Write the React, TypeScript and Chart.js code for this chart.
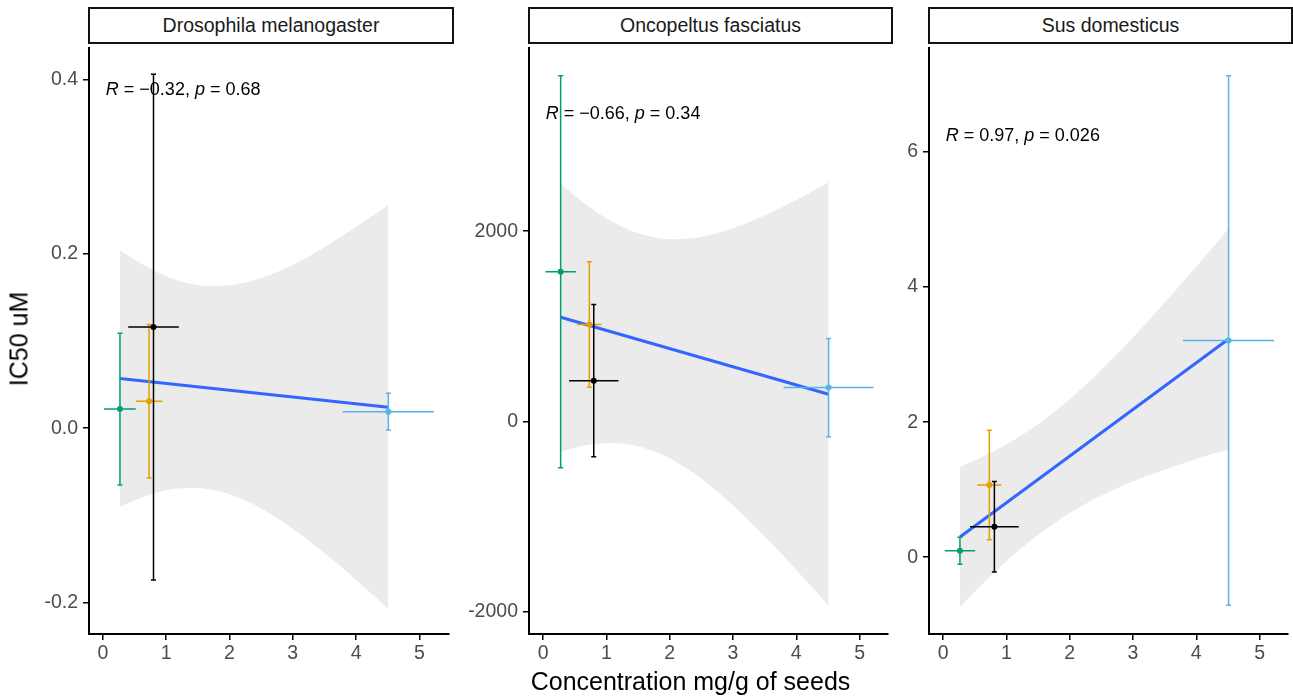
import React, { useEffect, useRef } from "react";
import { Chart, registerables } from "chart.js";

Chart.register(...registerables);

const FONT = '"Liberation Sans", Arial, Helvetica, sans-serif';

// ---------- data ----------
const panelTitles = ["Drosophila melanogaster", "Oncopeltus fasciatus", "Sus domesticus"];
const groupColors = ["#009E73", "#E69F00", "#000000", "#56B4E9"];
const xTickValues = [0, 1, 2, 3, 4, 5];

// Drosophila melanogaster
const droX = [0.27, 0.73, 0.8, 4.51];
const droXErr = [0.25, 0.21, 0.4, 0.72];
const droY = [0.022, 0.031, 0.116, 0.019];
const droYErr = [0.087, 0.088, 0.29, 0.021];
const droLineX = [0.27, 4.51];
const droLineY = [0.057, 0.024];
const droBandX = [0.27, 0.75, 1.25, 1.75, 2.25, 2.75, 3.25, 3.75, 4.25, 4.51];
const droBandUpper = [0.204, 0.183, 0.168, 0.163, 0.167, 0.179, 0.197, 0.219, 0.243, 0.256];
const droBandLower = [-0.09, -0.076, -0.069, -0.071, -0.083, -0.103, -0.129, -0.158, -0.19, -0.207];
const droYTicks = [-0.2, 0, 0.2, 0.4];
const droYTickLabels = ["-0.2", "0.0", "0.2", "0.4"];

// Oncopeltus fasciatus
const oncX = [0.277, 0.73, 0.8, 4.51];
const oncXErr = [0.24, 0.19, 0.39, 0.71];
const oncY = [1573, 1019, 428, 355];
const oncYErr = [2060, 660, 800, 517];
const oncLineX = [0.277, 4.51];
const oncLineY = [1094, 285];
const oncBandX = [0.277, 0.75, 1.25, 1.75, 2.25, 2.75, 3.25, 3.75, 4.25, 4.51];
const oncBandUpper = [2499, 2245, 2046, 1936, 1919, 1979, 2093, 2243, 2417, 2514];
const oncBandLower = [-317, -243, -234, -314, -487, -737, -1041, -1381, -1745, -1940];
const oncYTicks = [-2000, 0, 2000];
const oncYTickLabels = ["-2000", "0", "2000"];

// Sus domesticus
const susX = [0.266, 0.73, 0.81, 4.51];
const susXErr = [0.24, 0.19, 0.385, 0.72];
const susY = [0.094, 1.069, 0.451, 3.21];
const susYErr = [0.2, 0.81, 0.67, 3.92];
const susLineX = [0.266, 4.51];
const susLineY = [0.3, 3.23];
const susBandX = [0.266, 0.75, 1.25, 1.75, 2.25, 2.75, 3.25, 3.75, 4.25, 4.51];
const susBandUpper = [1.334, 1.545, 1.814, 2.148, 2.55, 3.01, 3.508, 4.033, 4.575, 4.862];
const susBandLower = [-0.736, -0.279, 0.144, 0.5, 0.788, 1.02, 1.212, 1.377, 1.527, 1.598];
const susYTicks = [0, 2, 4, 6];
const susYTickLabels = ["0", "2", "4", "6"];

// correlation labels
const corR = ["\u22120.32", "\u22120.66", "0.97"];
const corP = ["0.68", "0.34", "0.026"];

// ---------- layout (positions / ranges) ----------
const PLOT_TOP = 44;
const PLOT_H = 590;
const Y_AXIS_W = 80;
const X_AXIS_H = 60;

const panels = [
  {
    title: panelTitles[0], x: droX, xerr: droXErr, y: droY, yerr: droYErr,
    lineX: droLineX, lineY: droLineY, bandX: droBandX, bandU: droBandUpper, bandL: droBandLower,
    yTicks: droYTicks, yLabels: droYTickLabels, r: corR[0], p: corP[0],
    left: 89, width: 364, xMin: -0.219, yMin: -0.236, yMax: 0.436, corX: 0.047, corY: 0.388,
  },
  {
    title: panelTitles[1], x: oncX, xerr: oncXErr, y: oncY, yerr: oncYErr,
    lineX: oncLineX, lineY: oncLineY, bandX: oncBandX, bandU: oncBandUpper, bandL: oncBandLower,
    yTicks: oncYTicks, yLabels: oncYTickLabels, r: corR[1], p: corP[1],
    left: 529, width: 363, xMin: -0.223, yMin: -2235, yMax: 3925, corX: 0.042, corY: 3230,
  },
  {
    title: panelTitles[2], x: susX, xerr: susXErr, y: susY, yerr: susYErr,
    lineX: susLineX, lineY: susLineY, bandX: susBandX, bandU: susBandUpper, bandL: susBandLower,
    yTicks: susYTicks, yLabels: susYTickLabels, r: corR[2], p: corP[2],
    left: 929, width: 363, xMin: -0.223, yMin: -1.137, yMax: 7.54, corX: 0.042, corY: 6.23,
  },
];

function Panel({ cfg }: { cfg: any }) {
  const ref = useRef<HTMLCanvasElement | null>(null);
  useEffect(() => {
    if (!ref.current) return;
    const pts = cfg.x.map((v: number, i: number) => ({ x: v, y: cfg.y[i] }));
    const upper = cfg.bandX.map((v: number, i: number) => ({ x: v, y: cfg.bandU[i] }));
    const lower = cfg.bandX.map((v: number, i: number) => ({ x: v, y: cfg.bandL[i] }));
    const line = cfg.lineX.map((v: number, i: number) => ({ x: v, y: cfg.lineY[i] }));

    const errorBars = {
      id: "errorbars",
      beforeDatasetDraw(chart: any, args: any) {
        if (args.index !== 3) return;
        const { ctx } = chart;
        const xs = chart.scales.x;
        const ys = chart.scales.y;
        ctx.save();
        ctx.lineWidth = 1.5;
        ctx.lineCap = "butt";
        for (let i = 0; i < cfg.x.length; i++) {
          const px = xs.getPixelForValue(cfg.x[i]);
          const py = ys.getPixelForValue(cfg.y[i]);
          const top = ys.getPixelForValue(cfg.y[i] + cfg.yerr[i]);
          const bot = ys.getPixelForValue(cfg.y[i] - cfg.yerr[i]);
          const l = xs.getPixelForValue(cfg.x[i] - cfg.xerr[i]);
          const r = xs.getPixelForValue(cfg.x[i] + cfg.xerr[i]);
          ctx.strokeStyle = groupColors[i];
          ctx.beginPath();
          ctx.moveTo(px, top);
          ctx.lineTo(px, bot);
          ctx.moveTo(px - 2.5, top);
          ctx.lineTo(px + 2.5, top);
          ctx.moveTo(px - 2.5, bot);
          ctx.lineTo(px + 2.5, bot);
          ctx.moveTo(l, py);
          ctx.lineTo(r, py);
          ctx.stroke();
        }
        ctx.restore();
      },
      afterDatasetsDraw(chart: any) {
        const { ctx } = chart;
        const px = chart.scales.x.getPixelForValue(cfg.corX);
        const py = chart.scales.y.getPixelForValue(cfg.corY);
        const segs = [
          { t: "R", it: true },
          { t: " = " + cfg.r + ", ", it: false },
          { t: "p", it: true },
          { t: " = " + cfg.p, it: false },
        ];
        ctx.save();
        ctx.fillStyle = "#000";
        ctx.textBaseline = "middle";
        ctx.textAlign = "left";
        let cx = px;
        for (const s of segs) {
          ctx.font = `${s.it ? "italic " : ""}18px ${FONT}`;
          ctx.fillText(s.t, cx, py);
          cx += ctx.measureText(s.t).width;
        }
        ctx.restore();
      },
    };

    const axisCommon = {
      grid: {
        drawOnChartArea: false,
        drawTicks: true,
        tickLength: 6,
        color: "#000",
        tickColor: "#000",
        lineWidth: 1.5,
      },
      border: { display: true, color: "#000", width: 2 },
    };

    const chart = new Chart(ref.current, {
      type: "line",
      data: {
        datasets: [
          {
            type: "line",
            data: upper,
            order: 10,
            borderColor: "rgba(0,0,0,0)",
            borderWidth: 0,
            pointRadius: 0,
            backgroundColor: "#EBEBEB",
            fill: "+1",
            tension: 0.4,
          },
          {
            type: "line",
            data: lower,
            order: 10,
            borderColor: "rgba(0,0,0,0)",
            borderWidth: 0,
            pointRadius: 0,
            fill: false,
            tension: 0.4,
          },
          {
            type: "line",
            data: line,
            order: 5,
            borderColor: "#3366FF",
            borderWidth: 3,
            pointRadius: 0,
            fill: false,
          },
          {
            type: "scatter",
            data: pts,
            order: 0,
            showLine: false,
            pointRadius: 3,
            pointBorderWidth: 0,
            pointBackgroundColor: groupColors,
            pointBorderColor: groupColors,
          },
        ],
      } as any,
      options: {
        animation: false,
        responsive: false,
        events: [],
        layout: { padding: 0 },
        plugins: { legend: { display: false }, tooltip: { enabled: false } },
        scales: {
          x: {
            type: "linear",
            min: cfg.xMin,
            max: cfg.xMin + cfg.width / 64,
            ...axisCommon,
            afterBuildTicks: (s: any) => {
              s.ticks = xTickValues.map((v) => ({ value: v }));
            },
            afterFit: (s: any) => {
              s.height = X_AXIS_H;
              s.paddingLeft = 0;
              s.paddingRight = 0;
              s.paddingTop = 0;
              s.paddingBottom = 0;
            },
            ticks: {
              color: "#4D4D4D",
              font: { family: FONT, size: 19.5 },
              padding: 2,
              maxRotation: 0,
              autoSkip: false,
              callback: (v: any) => String(v),
            },
          },
          y: {
            type: "linear",
            min: cfg.yMin,
            max: cfg.yMax,
            ...axisCommon,
            afterBuildTicks: (s: any) => {
              s.ticks = cfg.yTicks.map((v: number) => ({ value: v }));
            },
            afterFit: (s: any) => {
              s.width = Y_AXIS_W;
              s.paddingLeft = 0;
              s.paddingRight = 0;
              s.paddingTop = 0;
              s.paddingBottom = 0;
            },
            ticks: {
              color: "#4D4D4D",
              font: { family: FONT, size: 19.5 },
              padding: 5,
              autoSkip: false,
              callback: (_v: any, i: number) => cfg.yLabels[i],
            },
          },
        },
      } as any,
      plugins: [errorBars],
    });
    return () => chart.destroy();
  }, [cfg]);

  const cw = Y_AXIS_W + cfg.width;
  const ch = PLOT_H + X_AXIS_H;
  return (
    <>
      <div
        style={{
          position: "absolute",
          left: cfg.left - 1,
          top: 7,
          width: cfg.width + 2,
          height: 37,
          boxSizing: "border-box",
          border: "2px solid #111",
          background: "#fff",
          display: "flex",
          alignItems: "center",
          justifyContent: "center",
          fontFamily: FONT,
          fontSize: 19.5,
          color: "#1A1A1A",
          whiteSpace: "nowrap",
        }}
      >
        {cfg.title}
      </div>
      <canvas
        ref={ref}
        width={cw}
        height={ch}
        style={{
          position: "absolute",
          left: cfg.left - Y_AXIS_W,
          top: PLOT_TOP,
          width: cw,
          height: ch,
        }}
      />
    </>
  );
}

export default function App() {
  return (
    <div
      style={{
        position: "fixed",
        left: 0,
        top: 0,
        width: 1293,
        height: 698,
        background: "#fff",
        overflow: "hidden",
        fontFamily: FONT,
      }}
    >
      {panels.map((p, i) => (
        <Panel key={i} cfg={p} />
      ))}
      <div
        style={{
          position: "absolute",
          left: 19,
          top: 339,
          transform: "translate(-50%, -50%) rotate(-90deg)",
          fontSize: 25,
          lineHeight: "25px",
          whiteSpace: "nowrap",
          color: "#000",
        }}
      >
        IC50 uM
      </div>
      <div
        style={{
          position: "absolute",
          left: 690.5,
          top: 680.7,
          transform: "translate(-50%, -50%)",
          fontSize: 25,
          lineHeight: "25px",
          whiteSpace: "nowrap",
          color: "#000",
        }}
      >
        Concentration mg/g of seeds
      </div>
    </div>
  );
}
